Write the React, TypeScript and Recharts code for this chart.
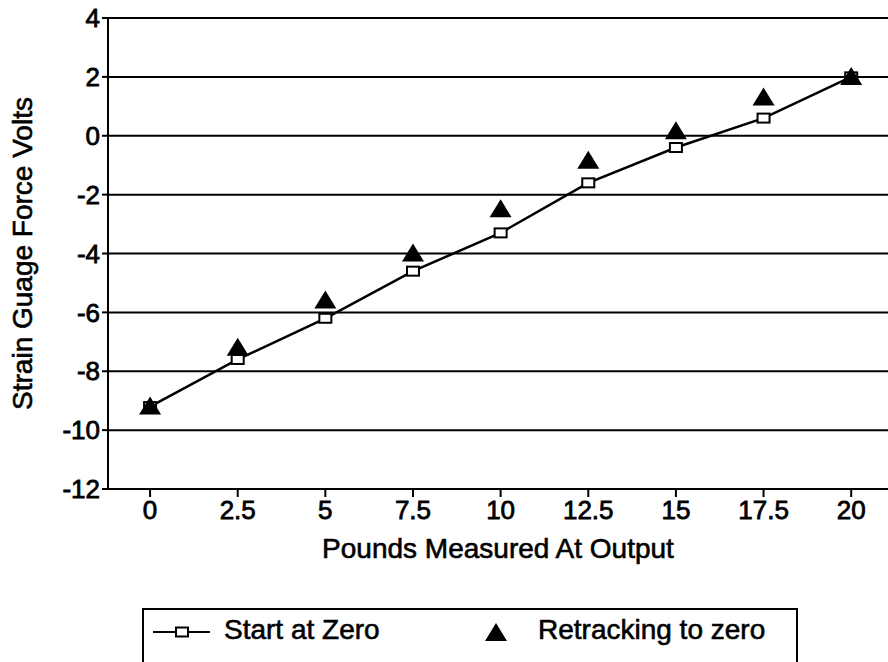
import React from 'react';
import {
  ComposedChart,
  Line,
  Scatter,
  XAxis,
  YAxis,
  CartesianGrid,
  Label,
} from 'recharts';

// pounds at output (x categories)
const pounds = [0, 2.5, 5, 7.5, 10, 12.5, 15, 17.5, 20];
// strain gauge volts
const startAtZero = [-9.2, -7.6, -6.2, -4.6, -3.3, -1.6, -0.4, 0.6, 2.0];
const retracking = [-9.2, -7.2, -5.6, -4.0, -2.5, -0.85, 0.15, 1.3, 2.0];
const yTicks = [-12, -10, -8, -6, -4, -2, 0, 2, 4];

const startData = pounds.map((x, i) => ({ x, y: startAtZero[i] }));
const retrackData = pounds.map((x, i) => ({ x, y: retracking[i] }));

const FONT = '"Liberation Sans", Arial, sans-serif';

// hollow rectangle marker
function SquareDot(props: any) {
  const { cx, cy } = props;
  if (cx == null || cy == null) return null;
  return <rect x={cx - 6} y={cy - 4.5} width={12} height={9} fill="#fff" stroke="#000" strokeWidth={2} />;
}

// filled triangle marker
function Triangle(props: any) {
  const { cx, cy } = props;
  if (cx == null || cy == null) return null;
  const pts = `${cx},${cy - 10} ${cx + 11},${cy + 8} ${cx - 11},${cy + 8}`;
  return <polygon points={pts} fill="#000" />;
}

function YTitle({ viewBox }: any) {
  const cx = 22;
  const cy = viewBox.y + viewBox.height / 2;
  return (
    <text x={cx} y={cy} transform={`rotate(-90, ${cx}, ${cy})`} textAnchor="middle" dominantBaseline="central"
      fontFamily={FONT} fontSize={28} fill="#000" stroke="#000" strokeWidth={0.6}>
      Strain Guage Force Volts
    </text>
  );
}

function XTitle({ viewBox }: any) {
  const cx = viewBox.x + viewBox.width / 2;
  const cy = viewBox.y + 59;
  return (
    <text x={cx} y={cy} textAnchor="middle" dominantBaseline="central" fontFamily={FONT} fontSize={28}
      fill="#000" stroke="#000" strokeWidth={0.6}>
      Pounds Measured At Output
    </text>
  );
}

const tickStyle = { fontSize: 26, fill: '#000', fontFamily: FONT, stroke: '#000', strokeWidth: 0.8 };

export default function App() {
  return (
    <div style={{ position: 'absolute', left: 0, top: 0, width: 888, height: 662, overflow: 'hidden', background: '#fff' }}>
      <ComposedChart width={888} height={662} margin={{ top: 18, right: 0, left: 0, bottom: 0 }}>
        <CartesianGrid vertical={false} stroke="#000" strokeWidth={2} />
        <XAxis
          type="number"
          dataKey="x"
          domain={[-1.2, 21.05]}
          ticks={pounds}
          allowDataOverflow
          height={173}
          tick={tickStyle}
          tickSize={8}
          tickMargin={4}
          stroke="#000"
          strokeWidth={2}
          tickFormatter={(v: number) => String(v)}
        >
          <Label content={<XTitle />} />
        </XAxis>
        <YAxis
          type="number"
          dataKey="y"
          domain={[-12, 4]}
          ticks={yTicks}
          width={108}
          tick={tickStyle}
          tickSize={6}
          tickMargin={2}
          stroke="#000"
          strokeWidth={2}
        >
          <Label content={<YTitle />} />
        </YAxis>
        <Line
          data={startData}
          dataKey="y"
          type="linear"
          stroke="#000"
          strokeWidth={2.5}
          dot={<SquareDot />}
          activeDot={false}
          isAnimationActive={false}
        />
        <Scatter data={retrackData} dataKey="y" shape={<Triangle />} isAnimationActive={false} />
      </ComposedChart>

      <div
        style={{
          position: 'absolute',
          left: 142,
          top: 608,
          width: 652,
          height: 80,
          border: '2px solid #000',
          fontFamily: FONT,
          fontSize: 28,
          color: '#000',
          WebkitTextStroke: '0.6px #000',
        }}
      >
        <svg style={{ position: 'absolute', left: 9, top: 12 }} width={60} height={20}>
          <line x1={0} y1={10} x2={57} y2={10} stroke="#000" strokeWidth={2} />
          <rect x={23} y={5.5} width={12} height={9} fill="#fff" stroke="#000" strokeWidth={2} />
        </svg>
        <span style={{ position: 'absolute', left: 80, top: 4, whiteSpace: 'nowrap' }}>Start at Zero</span>
        <svg style={{ position: 'absolute', left: 340, top: 12 }} width={24} height={20}>
          <polygon points="12,1 23,19 1,19" fill="#000" />
        </svg>
        <span style={{ position: 'absolute', left: 394, top: 4, whiteSpace: 'nowrap' }}>Retracking to zero</span>
      </div>
    </div>
  );
}
